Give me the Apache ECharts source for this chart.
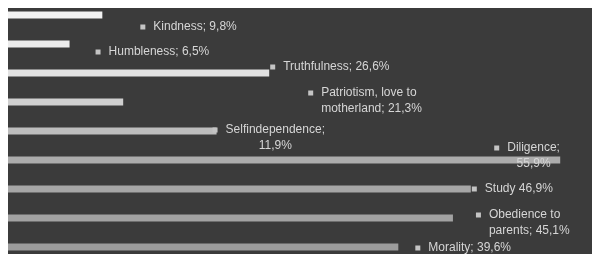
<!DOCTYPE html>
<html>
<head>
    <meta charset="UTF-8">
    <title>Values</title>
    <script type="text/javascript" src="https://cdn.jsdelivr.net/npm/echarts@6/dist/echarts.min.js"></script>
    <style>
        body { margin: 0; background: #ffffff; overflow: hidden; }
        #main { position: absolute; left: 0; top: 0; width: 592px; height: 262px; background: #3b3b3b; }
        .strip { position: absolute; background: #ffffff; z-index: 5; }
    </style>
</head>
<body>
  <div id="main"></div>
  <div class="strip" style="left:0;top:0;width:592px;height:8px;"></div>
  <div class="strip" style="left:0;top:0;width:8px;height:262px;"></div>

  <script>
    // data, top to bottom
    var categories = ['Kindness', 'Humbleness', 'Truthfulness', 'Patriotism', 'Selfindependence',
                      'Diligence', 'Study', 'Obedience to parents', 'Morality'];
    var values = [9.8, 6.5, 26.6, 11.9, 21.3, 55.9, 46.9, 45.1, 39.6];
    var labelLines = [
        ['Kindness; 9,8%'],
        ['Humbleness; 6,5%'],
        ['Truthfulness; 26,6%'],
        ['Patriotism, love to', 'motherland; 21,3%'],
        ['Selfindependence;', '11,9%'],
        ['Diligence;', '55,9%'],
        ['Study 46,9%'],
        ['Obedience to', 'parents; 45,1%'],
        ['Morality; 39,6%']
    ];

    // label offsets from the bar end (px), where the callouts sit in the picture
    var labelOffsets = [[38, 12], [26, 8], [1, -6], [185, -1], [-4, 7], [-66, -4], [1, 0], [23, 5], [17, 1]];
    var barColors = ['#f2f2f2', '#ececec', '#e2e2e2', '#cfcfcf', '#bdbdbd', '#acacac', '#a6a6a6', '#a2a2a2', '#9c9c9c'];

    var barData = values.map(function (v, i) {
        var lines = labelLines[i];
        var text = '{m|}{t|' + lines[0] + '}';
        for (var k = 1; k < lines.length; k++) {
            text += '\n{c|' + lines[k] + '}';
        }
        return {
            value: v,
            itemStyle: { color: barColors[i] },
            label: { formatter: text, offset: labelOffsets[i] }
        };
    });

    var chart = echarts.init(document.getElementById('main'), null, {renderer: 'canvas'});
    chart.setOption({
        animation: false,
        grid: { left: 5, width: 586, top: 0.5, height: 261 },
        xAxis: {
            type: 'value', min: 0, max: 59,
            show: false
        },
        yAxis: {
            type: 'category', data: categories, inverse: true,
            show: false
        },
        series: [{
            type: 'bar',
            data: barData,
            barWidth: 7,
            label: {
                show: true,
                position: 'right',
                distance: 0,
                color: '#d6d6d6',
                fontFamily: 'Liberation Sans',
                fontSize: 12,
                lineHeight: 16,
                rich: {
                    m: { width: 5, height: 5, backgroundColor: '#c4c4c4', align: 'left' },
                    t: { color: '#d6d6d6', fontFamily: 'Liberation Sans', fontSize: 12, padding: [0, 0, 0, 8], align: 'left' },
                    c: { color: '#d6d6d6', fontFamily: 'Liberation Sans', fontSize: 12, padding: [0, 0, 0, 13], align: 'center' }
                }
            }
        }]
    });
</script>
</body>
</html>
